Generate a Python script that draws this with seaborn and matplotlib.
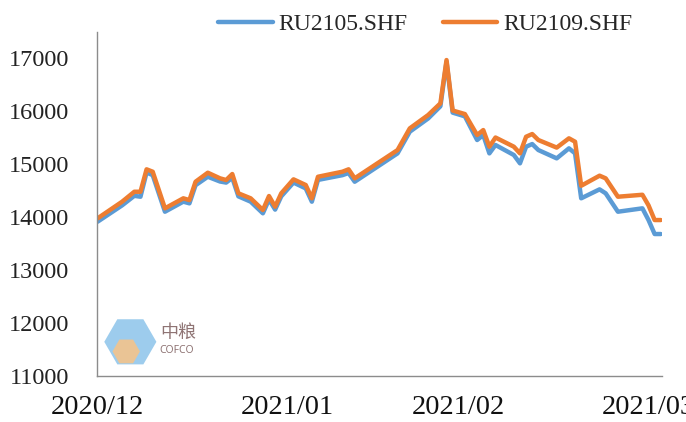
import numpy as np
import pandas as pd
import matplotlib
matplotlib.use("Agg")
import matplotlib.pyplot as plt
from matplotlib.patches import RegularPolygon
import seaborn as sns

# ---- data ----
day_offsets = [0, 4, 6, 7, 8, 9, 11, 14, 15, 16,
               18, 20, 21, 22, 23, 25, 27, 28, 29, 30,
               32, 34, 35, 36, 40, 41, 42, 49, 51, 54,
               56, 57, 58, 60, 62, 63, 64, 65, 68, 69,
               70, 71, 72, 75, 77, 78, 79, 82, 83, 85,
               89, 90, 91, 92]
ru2105 = [13912, 14220, 14400, 14383, 14840, 14790, 14100, 14290, 14258, 14600,
          14760, 14670, 14650, 14740, 14390, 14290, 14070, 14330, 14140, 14390,
          14650, 14540, 14289, 14700, 14790, 14830, 14666, 15201, 15610, 15860,
          16090, 16930, 15970, 15900, 15453, 15547, 15201, 15359, 15170, 15013,
          15327, 15377, 15264, 15107, 15296, 15201, 14353, 14522, 14447, 14100,
          14164, 13943, 13679, 13679]
ru2109 = [13975, 14289, 14477, 14477, 14900, 14855, 14164, 14353, 14320, 14666,
          14836, 14730, 14698, 14811, 14447, 14353, 14132, 14396, 14195, 14447,
          14711, 14604, 14353, 14760, 14855, 14900, 14730, 15264, 15673, 15925,
          16145, 16962, 16010, 15943, 15547, 15641, 15327, 15500, 15327, 15201,
          15515, 15566, 15453, 15310, 15485, 15421, 14590, 14780, 14730, 14383,
          14420, 14220, 13943, 13943]
series_names = ["RU2105.SHF", "RU2109.SHF"]
tick_dates = ["2020-12-01", "2021-01-01", "2021-01-29", "2021-03-01"]
tick_labels = ["2020/12", "2021/01", "2021/02", "2021/03"]
y_ticks = [11000, 12000, 13000, 14000, 15000, 16000, 17000]

start = pd.Timestamp("2020-12-01")
dates = [start + pd.Timedelta(days=d) for d in day_offsets]
df = pd.DataFrame({
    "date": dates * 2,
    "value": ru2105 + ru2109,
    "series": [series_names[0]] * len(dates) + [series_names[1]] * len(dates),
})

sns.set_theme(style="white")
plt.rcParams["font.family"] = ["Liberation Serif", "DejaVu Serif"]

fig = plt.figure(figsize=(6.86, 4.22), dpi=100)
ax = fig.add_axes([0.1414, 0.109, 0.8236, 0.815])

palette = {series_names[0]: "#5B9BD5", series_names[1]: "#ED7D31"}
sns.lineplot(data=df, x="date", y="value", hue="series", palette=palette,
             linewidth=3.2, ax=ax, legend=True)

ax.set_xlim(start - pd.Timedelta(days=0.1), start + pd.Timedelta(days=92.2))
ax.set_ylim(11000, 17490)
ax.set_yticks(y_ticks)
ax.set_yticklabels([str(v) for v in y_ticks], fontsize=17.5, color="#222222")
ax.set_xticks([pd.Timestamp(t) for t in tick_dates])
ax.set_xticklabels(tick_labels, fontsize=20.5, color="#111111")
ax.set_xlabel("")
ax.set_ylabel("")

for s in ["top", "right"]:
    ax.spines[s].set_visible(False)
for s in ["left", "bottom"]:
    ax.spines[s].set_color("#8c8c8c")
    ax.spines[s].set_linewidth(1.0)

ax.tick_params(axis="x", direction="in", length=8, width=1, color="#8c8c8c", pad=14)
ax.tick_params(axis="y", length=0, pad=20)

handles, labels = ax.get_legend_handles_labels()
ax.legend(handles, labels, loc="center", bbox_to_anchor=(0.62, 0.942),
          bbox_transform=fig.transFigure, ncol=2, frameon=False,
          fontsize=17, handlelength=2.3, handletextpad=0.25, columnspacing=1.5)

# logo decoration
logo_ax = fig.add_axes([0.150, 0.125, 0.08, 0.13])
logo_ax.set_xlim(-1, 1)
logo_ax.set_ylim(-1, 1)
logo_ax.axis("off")
logo_ax.add_patch(RegularPolygon((0, 0), numVertices=6, radius=0.95,
                                 orientation=np.pi / 6, facecolor="#8cc4ea",
                                 edgecolor="none", alpha=0.85))
logo_ax.add_patch(RegularPolygon((-0.15, -0.35), numVertices=6, radius=0.5,
                                 orientation=np.pi / 6, facecolor="#f3c48c",
                                 edgecolor="none", alpha=0.9))
fig.text(0.233, 0.210, "中粮", fontsize=13, color="#8f7474",
         family=["Noto Sans CJK SC", "DejaVu Sans"], va="center")
fig.text(0.233, 0.170, "COFCO", fontsize=7.5, color="#8f7474",
         family=["Noto Sans", "DejaVu Sans"], va="center")

fig.savefig("out.png", dpi=100)
